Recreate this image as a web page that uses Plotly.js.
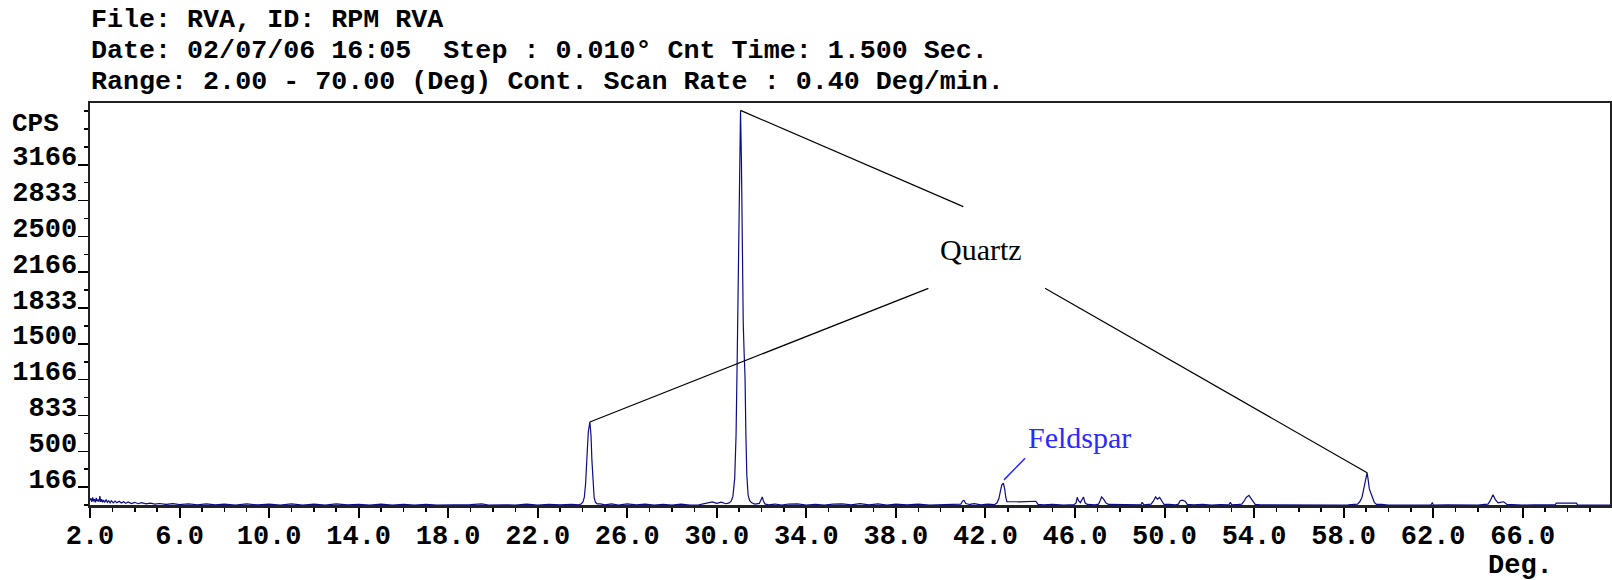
<!DOCTYPE html>
<html>
<head>
<meta charset="utf-8">
<script src="https://cdn.plot.ly/plotly-3.0.1.min.js"></script>
<style>html,body{margin:0;padding:0;background:#fff;}#chart{width:1612px;height:580px;}</style>
</head>
<body>
<div id="chart"></div>
<script>
// ---- Data (2-theta in degrees, counts per second) ----
const scanDeg = [
  2.00,2.04,2.08,2.12,2.16,2.20,2.24,2.28,2.32,2.36,2.40,2.44,2.48,2.52,2.56,2.60,2.66,2.72,2.78,2.84,2.90,2.96,
  3.04,3.12,3.20,3.30,3.40,3.50,3.60,3.70,3.85,4.00,4.15,4.30,4.50,4.70,4.90,5.10,5.40,5.70,6.00,6.40,6.80,7.20,7.60,
  8.00,8.50,9.00,9.50,10.00,10.50,11.00,11.50,12.00,12.50,13.00,13.50,14.00,14.50,15.00,15.50,16.00,16.50,17.00,17.50,
  18.00,18.50,19.00,19.50,19.80,20.50,21.00,21.50,22.00,22.50,23.00,23.50,23.85,
  23.95,24.02,24.08,24.14,24.20,24.26,24.33,24.38,24.42,24.47,24.52,24.58,24.66,
  24.80,25.00,25.30,25.60,26.00,26.40,26.80,27.20,27.60,28.00,28.40,28.80,29.20,29.60,29.80,30.00,30.20,30.40,
  30.55,30.64,30.72,30.80,30.86,30.91,30.96,31.01,31.06,31.10,31.14,31.18,31.22,31.26,31.30,31.34,31.40,31.47,31.56,
  31.70,31.90,31.98,32.03,32.08,32.15,32.30,32.60,32.90,33.20,33.60,34.00,34.40,34.80,35.20,35.60,36.00,36.40,36.80,
  37.20,37.60,38.00,38.50,39.00,39.50,40.00,40.50,40.90,40.98,41.04,41.12,41.30,41.50,41.80,42.10,42.40,
  42.52,42.60,42.67,42.73,42.80,42.86,42.91,42.96,43.50,44.00,44.25,44.35,44.60,45.00,45.50,45.95,
  46.05,46.10,46.16,46.24,46.32,46.38,46.45,46.55,46.90,47.05,47.12,47.19,47.28,47.38,47.50,47.80,48.20,48.60,
  48.95,49.00,49.08,49.40,49.50,49.60,49.68,49.78,49.88,49.98,50.20,50.50,50.62,50.70,50.80,50.92,51.02,51.30,
  51.70,52.10,52.50,52.88,52.94,53.00,53.30,53.45,53.55,53.65,53.77,53.87,53.97,54.05,54.30,54.80,55.30,55.80,
  56.30,56.80,57.30,57.80,58.20,58.50,58.62,58.72,58.82,58.90,58.97,59.05,59.10,59.15,59.22,59.29,59.37,59.47,
  59.70,60.00,60.50,61.00,61.50,61.90,61.96,62.02,62.60,63.10,63.60,64.00,64.30,64.45,64.55,64.67,64.78,64.90,
  65.00,65.15,65.30,65.60,66.00,66.50,67.00,67.45,67.50,68.40,68.45,69.00,69.50,69.90
];
const scanCps = [
  45,62,30,70,35,55,25,66,35,50,30,82,30,55,25,45,25,50,25,40,20,40,
  20,36,20,34,18,30,15,28,14,25,12,22,10,18,8,14,5,12,4,11,2,10,1,
  9,0,10,1,8,0,10,0,9,0,10,1,7,0,9,0,7,0,5,0,
  2,0,3,11,0,2,0,9,0,7,1,5,1,
  12,28,70,200,450,680,773,650,420,200,70,25,10,
  11,1,10,0,10,1,9,0,7,0,9,0,2,18,28,15,26,12,
  20,35,80,250,650,1350,2300,3250,3673,3200,2300,1700,1420,1200,650,280,90,40,20,
  8,15,55,75,40,10,1,9,0,9,11,0,7,0,9,11,1,12,1,
  10,0,9,1,9,0,3,0,8,38,42,14,5,13,1,8,3,
  20,60,130,185,204,150,70,32,30,30,35,5,1,5,0,3,
  20,72,40,22,50,75,20,5,1,8,40,75,55,20,5,5,0,7,
  1,25,1,8,35,75,55,70,30,5,5,1,8,40,45,35,5,1,
  5,0,3,1,25,1,5,8,35,70,90,60,25,5,1,0,1,0,
  1,0,1,0,1,5,8,30,70,150,240,301,230,150,110,60,25,5,
  7,0,1,0,1,1,20,0,1,0,1,0,5,8,40,95,50,20,
  25,30,5,1,0,1,0,1,18,18,1,0,1,0
];

// Peak identifications (apex position and height) used for the leader lines
const quartzPeakDeg = [31.06, 24.33, 59.05];
const quartzPeakCps = [3673, 773, 301];
const feldsparPeakDeg = [42.80];
const feldsparPeakCps = [204];

// Axis tick labels
const xRange = [2, 69.9];
const yRange = [0, 3742];
const yTickVals = [166.667, 500, 833.333, 1166.667, 1500, 1833.333, 2166.667, 2500, 2833.333, 3166.667];
const yTickText = ['166', '500', '833', '1166', '1500', '1833', '2166', '2500', '2833', '3166'];
const yMinorTickVals = [0, 333.333, 666.667, 1000, 1333.333, 1666.667, 2000, 2333.333, 2666.667, 3000, 3333.333, 3500, 3666.667];

const headerLines = [
  'File: RVA, ID: RPM RVA',
  'Date: 02/07/06 16:05  Step : 0.010\u00b0 Cnt Time: 1.500 Sec.',
  'Range: 2.00 - 70.00 (Deg) Cont. Scan Rate : 0.40 Deg/min.'
];

// ---- Styling / layout ----
const MONO = 'Liberation Mono, Courier New, monospace';
const SERIF = 'Liberation Serif, Times New Roman, serif';
const lineColor = '#0c0c84';

const trace = {
  x: scanDeg, y: scanCps, type: 'scatter', mode: 'lines',
  line: {color: lineColor, width: 1.2},
  hoverinfo: 'skip', showlegend: false
};

// label geometry (data coordinates)
const quartzLabel = {x: 41.82, y: 2383};
const quartzLeaderEnds = [{x: 41.01, y: 2777}, {x: 39.45, y: 2017}, {x: 44.66, y: 2017}];
const feldsparLabel = {x: 46.22, y: 630};
const feldsparLeaderStart = {x: 43.77, y: 435};

const shapes = [];
quartzPeakDeg.forEach((d, i) => {
  shapes.push({type: 'line', xref: 'x', yref: 'y',
    x0: d, y0: quartzPeakCps[i], x1: quartzLeaderEnds[i].x, y1: quartzLeaderEnds[i].y,
    line: {color: '#000', width: 1.2}});
});
shapes.push({type: 'line', xref: 'x', yref: 'y',
  x0: feldsparLeaderStart.x, y0: feldsparLeaderStart.y,
  x1: feldsparPeakDeg[0] + 0.03, y1: feldsparPeakCps[0] + 30,
  line: {color: '#2a2aff', width: 1.5}});

const annotations = [];
const headerShift = [83, 52.5, 21.5];
headerLines.forEach((t, i) => {
  annotations.push({text: t, xref: 'paper', yref: 'paper', x: 0, y: 1,
    xanchor: 'left', yanchor: 'middle', xshift: -1, yshift: headerShift[i],
    showarrow: false, font: {family: MONO, size: 26.7, color: '#000', weight: 'bold'}});
});
annotations.push({text: 'CPS', xref: 'paper', yref: 'y', x: 0, y: 3500,
  xanchor: 'right', yanchor: 'middle', xshift: -29, yshift: 5,
  showarrow: false, font: {family: MONO, size: 26, color: '#000', weight: 'bold'}});
annotations.push({text: 'Deg.', xref: 'x', yref: 'paper', x: 65.9, y: 0,
  xanchor: 'center', yanchor: 'middle', yshift: -61,
  showarrow: false, font: {family: MONO, size: 27, color: '#000', weight: 'bold'}});
annotations.push({text: 'Quartz', xref: 'x', yref: 'y', x: quartzLabel.x, y: quartzLabel.y,
  xanchor: 'center', yanchor: 'middle', showarrow: false,
  font: {family: SERIF, size: 30, color: '#000'}});
annotations.push({text: 'Feldspar', xref: 'x', yref: 'y', x: feldsparLabel.x, y: feldsparLabel.y,
  xanchor: 'center', yanchor: 'middle', showarrow: false,
  font: {family: SERIF, size: 30, color: '#2a2aff'}});

const layout = {
  width: 1612, height: 580,
  margin: {l: 90, r: 2, t: 103, b: 75, pad: 0},
  paper_bgcolor: '#fff', plot_bgcolor: '#fff',
  showlegend: false,
  xaxis: {
    range: xRange, showgrid: false, zeroline: false,
    showline: true, mirror: true, linecolor: '#222', linewidth: 2.5,
    ticks: 'outside', tickmode: 'linear', tick0: 2, dtick: 4, ticklen: 10, tickwidth: 2, tickcolor: '#000',
    tickformat: '.1f', ticklabelstandoff: -6,
    minor: {ticks: 'outside', tickmode: 'linear', tick0: 2, dtick: 1, ticklen: 4, tickwidth: 1.5, tickcolor: '#000', showgrid: false},
    tickfont: {family: MONO, size: 27, color: '#000', weight: 'bold'},
    fixedrange: true
  },
  yaxis: {
    range: yRange, showgrid: false, zeroline: false,
    showline: true, mirror: true, linecolor: '#222', linewidth: 2.5,
    ticks: 'outside', tickmode: 'array', tickvals: yTickVals, ticktext: yTickText,
    ticklen: 10, tickwidth: 1.5, tickcolor: '#000',
    ticklabelshift: -9, ticklabelstandoff: -5,
    minor: {ticks: 'outside', tickmode: 'array', tickvals: yMinorTickVals, ticklen: 4, tickwidth: 1.5, tickcolor: '#000', showgrid: false},
    tickfont: {family: MONO, size: 27, color: '#000', weight: 'bold'},
    fixedrange: true
  },
  shapes: shapes,
  annotations: annotations
};

Plotly.newPlot('chart', [trace], layout, {displayModeBar: false, staticPlot: true});
</script>
</body>
</html>
